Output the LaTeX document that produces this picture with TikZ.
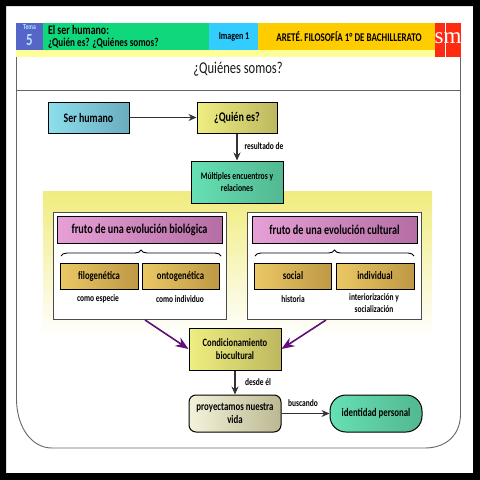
\documentclass[tikz,border=0pt]{standalone}
\usepackage{fontspec}
\setmainfont[FakeStretch=0.76]{Carlito}
\newfontfamily\smfont{Liberation Serif}
\usetikzlibrary{arrows.meta,calc,decorations.pathreplacing}
\definecolor{hblue}{HTML}{5566C8}
\definecolor{hgreen}{HTML}{10D67C}
\definecolor{hcyan}{HTML}{33CCFF}
\definecolor{horange}{HTML}{FFCC00}
\definecolor{hred}{HTML}{FF2A12}
\definecolor{hband}{HTML}{FFFF99}
\definecolor{framegray}{HTML}{666666}
\definecolor{areay}{HTML}{F0EC7E}
\definecolor{arrowp}{HTML}{5E0F78}
\definecolor{cyanl}{HTML}{8CDFEC}\definecolor{cyanr}{HTML}{6AADC0}
\definecolor{yell}{HTML}{EFEE80}\definecolor{yelr}{HTML}{BDB860}
\definecolor{greenl}{HTML}{66E0B4}\definecolor{greenr}{HTML}{52B890}
\definecolor{pinkl}{HTML}{E6A0D6}\definecolor{pinkr}{HTML}{B46EA4}
\definecolor{goldl}{HTML}{EBC865}\definecolor{goldr}{HTML}{BE9845}
\definecolor{beigel}{HTML}{F4F2DA}\definecolor{beiger}{HTML}{BBB892}
\tikzset{
  hdr/.style={inner sep=0pt,outer sep=0pt,font=\bfseries,align=left,text=black},
  base/.style={draw=black,line width=1pt,inner sep=0pt,align=center,font=\bfseries,text=black,shading angle=0},
  cyanbox/.style={base,left color=cyanl,right color=cyanr},
  yelbox/.style={base,left color=yell,right color=yelr},
  greenbox/.style={base,left color=greenl,right color=greenr},
  pinkbox/.style={base,left color=pinkl,right color=pinkr,font=\bfseries\fontsize{13.4}{14}\selectfont},
  goldbox/.style={base,left color=goldl,right color=goldr,font=\bfseries\fontsize{11.4}{12}\selectfont},
  panel/.style={draw=black!70,line width=.7pt,fill=white,inner sep=0pt},
  note/.style={inner sep=0pt,align=center,font=\bfseries\fontsize{9.8}{12}\selectfont,text=black},
  arr/.style={line width=1.1pt,draw=black!80,-{Stealth[length=8pt,width=7pt]}},
  parr/.style={line width=1.6pt,draw=arrowp,-{Stealth[length=13pt,width=10pt,fill=arrowp!85!magenta]}},
  bracel/.style={draw=black,line width=.9pt,decorate,decoration={brace,amplitude=6pt}},
  fr/.style={draw=framegray,line width=.9pt}
}
\begin{document}
\begin{tikzpicture}[x=1pt,y=-1pt]
\useasboundingbox (0,0) rectangle (480,480);
\fill[white] (0,0) rectangle (480,480);
% header
\fill[hband] (16,50) rectangle (435,57);
\fill[hblue] (16,23) rectangle (43,50);
\fill[hgreen] (43,23) rectangle (209,50);
\fill[hcyan] (209,23) rectangle (258,50);
\fill[horange] (258,23) rectangle (435,50);
\fill[hred] (435,23) rectangle (461,57);
\draw[white,line width=.5pt] (445,23) -- (445,57);
\node[hdr,text=cyan!30!white,font=\bfseries\fontsize{7.5}{8}\selectfont] (tema) at (29.5,27.5) {Tema};
\node[hdr,text=cyan!30!white,font=\bfseries\fontsize{17}{17}\selectfont] (cinco) at (29.5,40.5) {5};
\node[hdr,anchor=west,font=\bfseries\fontsize{13}{14}\selectfont] (t1) at (48,30) {El ser humano:};
\node[hdr,anchor=west,font=\bfseries\fontsize{12}{13}\selectfont] (t2) at (48,43.5) {¿Quién es? ¿Quiénes somos?};
\node[hdr,font=\bfseries\fontsize{10.5}{11}\selectfont] (img) at (234,37) {Imagen 1};
\node[hdr,font=\bfseries\fontsize{11.8}{12}\selectfont] (are) at (349,36.5) {ARETÉ. FILOSOFÍA 1\textdegree\ DE BACHILLERATO};
\node[hdr,text=white,font=\smfont\fontsize{23}{23}\selectfont] (sm) at (448,38) {sm};
% frame
\draw[fr] (16.5,57) -- (16.5,400) .. controls (17,428) and (32,448) .. (52,448) -- (425,448) .. controls (445,448) and (460,436) .. (460.5,415) -- (460.5,57);
\draw[fr,line width=1.1pt] (16.5,90.5) -- (460.5,90.5);
\node[inner sep=0pt,font=\fontsize{16.5}{18}\selectfont,text=black!90] (title) at (238,69) {¿Quiénes somos?};
% yellow area
\shade[top color=areay,bottom color=white,middle color=areay!50!white] (43,191) rectangle (432,336);
% panels
\node[panel,minimum width=173pt,minimum height=107pt] (pl) at (139.5,265.5) {};
\node[panel,minimum width=174pt,minimum height=107pt] (pr) at (334,265.5) {};
% nodes
\node[cyanbox,minimum width=81pt,minimum height=31pt,font=\bfseries\fontsize{13}{14}\selectfont] (ser) at (88.5,117.5) {Ser humano};
\node[yelbox,minimum width=80pt,minimum height=31pt,font=\bfseries\fontsize{13.2}{14}\selectfont] (quien) at (237,117.5) {¿Quién es?};
\node[greenbox,minimum width=92pt,minimum height=42pt,font=\bfseries\fontsize{10}{12.5}\selectfont] (mult) at (237,182) {Múltiples encuentros y\\relaciones};
\node[pinkbox,minimum width=165pt,minimum height=27pt] (fb) at (139.5,229.5) {fruto de una evolución biológica};
\node[pinkbox,minimum width=165pt,minimum height=27pt] (fc) at (334.5,229.5) {fruto de una evolución cultural};
\node[goldbox,minimum width=78pt,minimum height=26pt] (filo) at (99,276) {filogenética};
\node[goldbox,minimum width=77pt,minimum height=26pt] (onto) at (180.5,276) {ontogenética};
\node[goldbox,minimum width=77pt,minimum height=26pt] (soc) at (293,276) {social};
\node[goldbox,minimum width=78pt,minimum height=26pt] (ind) at (375,276) {individual};
\draw[bracel] (61,256) -- (221,256);
\draw[bracel] (255,256) -- (414,256);
\node[note] (n1) at (98,299) {como especie};
\node[note] (n2) at (180,299) {como individuo};
\node[note] (n3) at (293,299) {historia};
\node[note] (n4) at (374,303) {interiorización y\\socialización};
\node[yelbox,minimum width=92pt,minimum height=42pt,font=\bfseries\fontsize{11.2}{13.5}\selectfont] (cond) at (235,349) {Condicionamiento\\biocultural};
\node[base,rounded corners=7pt,left color=beigel,right color=beiger,minimum width=92pt,minimum height=37pt,font=\bfseries\fontsize{11.6}{13.5}\selectfont] (proy) at (235,413.5) {proyectamos nuestra\\vida};
\node[base,rounded corners=16pt,left color=greenl,right color=greenr,minimum width=92pt,minimum height=37pt,font=\bfseries\fontsize{11.6}{13}\selectfont] (iden) at (376,413.5) {identidad personal};
% connectors
\draw[arr] (ser) -- (quien);
\draw[arr] (quien) -- (mult);
\draw[arr] (cond) -- (proy);
\draw[arr] (proy) -- (iden);
\coordinate (plout) at (145,320);
\coordinate (prout) at (326,320);
\draw[parr] (plout) -- (cond.west);
\draw[parr] (prout) -- (cond.east);
\node[note] (l1) at (264,146) {resultado de};
\node[note] (l2) at (258,382) {desde él};
\node[note] (l3) at (303,403) {buscando};
% outer black border
\fill[black,even odd rule] (0,0) rectangle (480,480) (6,6) rectangle (473,473);
\end{tikzpicture}
\end{document}
